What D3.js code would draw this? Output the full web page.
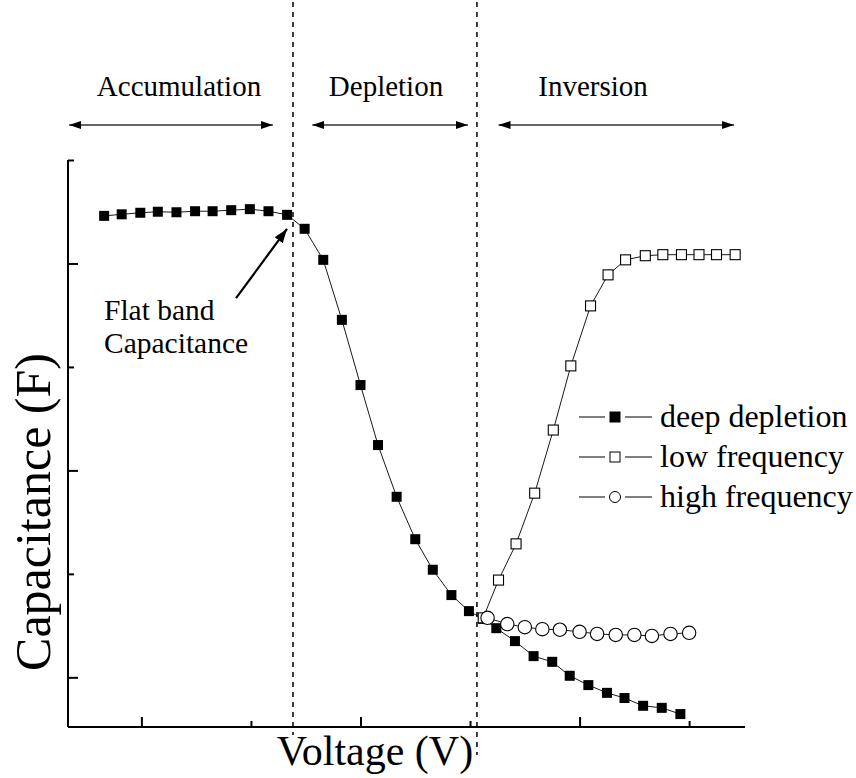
<!DOCTYPE html>
<html>
<head>
<meta charset="utf-8">
<script src="https://cdn.jsdelivr.net/npm/d3@7"></script>
<style>
  body { margin: 0; background: #fff; }
  svg text { font-family: "Liberation Serif", "DejaVu Serif", serif; fill: #000; }
</style>
</head>
<body>
<svg id="chart" width="856" height="778"></svg>
<script>
'use strict';

//data (voltage in V, capacitance in arbitrary units)
const ddV = [-3.34, -3.18, -3.01, -2.85, -2.68, -2.51, -2.35, -2.18, -2.01, -1.84, -1.67,
  -1.51, -1.34, -1.17, -1.0, -0.84, -0.67, -0.5, -0.34, -0.17, -0.01,
  0.12, 0.24, 0.41, 0.58, 0.75, 0.91, 1.08, 1.25, 1.41, 1.58, 1.75, 1.92];
const ddC = [9.92, 9.95, 9.98, 10.0, 9.99, 10.01, 10.01, 10.03, 10.05, 10.01, 9.94,
  9.67, 9.07, 7.91, 6.65, 5.49, 4.49, 3.67, 3.08, 2.59, 2.28,
  2.13, 1.95, 1.7, 1.41, 1.3, 1.03, 0.85, 0.7, 0.6, 0.45, 0.41, 0.29];
const lfV = [0.12, 0.26, 0.42, 0.59, 0.76, 0.92, 1.1, 1.26, 1.42, 1.6, 1.76, 1.93, 2.09, 2.25, 2.42];
const lfC = [2.15, 2.88, 3.58, 4.56, 5.78, 7.02, 8.18, 8.78, 9.07, 9.15, 9.17, 9.17, 9.17, 9.17, 9.17];
const hfV = [0.16, 0.34, 0.5, 0.66, 0.82, 1.0, 1.16, 1.33, 1.5, 1.66, 1.83, 2.0];
const hfC = [2.15, 2.03, 1.97, 1.93, 1.92, 1.88, 1.84, 1.82, 1.82, 1.8, 1.84, 1.86];

const xTicks = [-3, -2, -1, 0, 1, 2];
const xMajor = [-3, -1, 1];
const yTicks = [1, 3, 5, 7, 9, 11];
const yMajor = [1, 5, 9];

const regionNames = ['Accumulation', 'Depletion', 'Inversion'];
const regionFrom = [-3.66, -1.44, 0.26];
const regionTo = [-1.8, -0.02, 2.41];
const regionBoundaries = [-1.616, 0.063];
const seriesNames = ['deep depletion', 'low frequency', 'high frequency'];

(() => {
  //dimensions
  const svg = d3.select('#chart');
  const pLeft = 68, pRight = 745, pTop = 160, pBottom = 727;
  const x = d3.scaleLinear().domain([-3.67, 2.51]).range([pLeft, pRight]);
  const y = d3.scaleLinear().domain([0.04, 11]).range([pBottom, pTop]);

  //region boundaries
  svg.selectAll('.bound')
    .data(regionBoundaries)
    .join('line')
    .attr('x1', (d) => x(d))
    .attr('x2', (d) => x(d))
    .attr('y1', 2)
    .attr('y2', (d, i) => (i === 0 ? 735 : 755))
    .attr('stroke', '#000')
    .attr('stroke-width', 1.5)
    .attr('stroke-dasharray', '5,5');

  //axes
  const xAxis = d3.axisBottom(x).tickValues(xTicks).tickFormat('').tickSizeOuter(0);
  const gx = svg.append('g').attr('transform', `translate(0,${pBottom})`).call(xAxis);
  gx.selectAll('.tick line')
    .attr('y2', (d) => (xMajor.includes(d) ? -10 : -6));
  const yAxis = d3.axisLeft(y).tickValues(yTicks).tickFormat('').tickSizeOuter(0);
  const gy = svg.append('g').attr('transform', `translate(${pLeft},0)`).call(yAxis);
  gy.selectAll('.tick line')
    .attr('x2', (d) => (yMajor.includes(d) ? 10 : 6));
  svg.selectAll('.domain, .tick line').attr('stroke', '#000').attr('stroke-width', 2);
  gy.select('.domain').attr('d', `M0,${pTop}V${pBottom}`);
  gx.select('.domain').attr('d', `M${pLeft},0H${pRight}`);

  //axis titles
  svg.append('text')
    .attr('x', 375)
    .attr('y', 765)
    .attr('text-anchor', 'middle')
    .style('font-size', '42px')
    .text('Voltage (V)');
  svg.append('text')
    .attr('transform', 'translate(50,512) rotate(-90)')
    .attr('text-anchor', 'middle')
    .style('font-size', '50px')
    .text('Capacitance (F)');

  //arrowheads
  const defs = svg.append('defs');
  defs.append('marker')
    .attr('id', 'head')
    .attr('viewBox', '0 0 12 8')
    .attr('refX', 12)
    .attr('refY', 4)
    .attr('markerWidth', 12)
    .attr('markerHeight', 8)
    .attr('markerUnits', 'userSpaceOnUse')
    .attr('orient', 'auto-start-reverse')
    .append('path')
    .attr('d', 'M0,0L12,4L0,8Z')
    .attr('fill', '#000');
  defs.append('marker')
    .attr('id', 'head2')
    .attr('viewBox', '0 0 14 10')
    .attr('refX', 14)
    .attr('refY', 5)
    .attr('markerWidth', 14)
    .attr('markerHeight', 10)
    .attr('markerUnits', 'userSpaceOnUse')
    .attr('orient', 'auto')
    .append('path')
    .attr('d', 'M0,0L14,5L0,10Z')
    .attr('fill', '#000');

  //region labels and arrows
  regionNames.forEach((name, i) => {
    svg.append('text')
      .attr('x', [179, 386, 593][i])
      .attr('y', 96)
      .attr('text-anchor', 'middle')
      .style('font-size', '29px')
      .text(name);
    svg.append('line')
      .attr('x1', x(regionFrom[i]))
      .attr('x2', x(regionTo[i]))
      .attr('y1', 125)
      .attr('y2', 125)
      .attr('stroke', '#333')
      .attr('stroke-width', 1.5)
      .attr('marker-start', 'url(#head)')
      .attr('marker-end', 'url(#head)');
  });

  //series lines
  const line = d3.line().x((d) => x(d[0])).y((d) => y(d[1]));
  const dd = d3.zip(ddV, ddC);
  const lf = d3.zip(lfV, lfC);
  const hf = d3.zip(hfV, hfC);
  [dd, lf, hf].forEach((s) => {
    svg.append('path')
      .datum(s)
      .attr('d', line)
      .attr('fill', 'none')
      .attr('stroke', '#000')
      .attr('stroke-width', 0.9);
  });

  //markers
  svg.selectAll('.dd')
    .data(dd)
    .join('rect')
    .attr('x', (d) => x(d[0]) - 5)
    .attr('y', (d) => y(d[1]) - 5)
    .attr('width', 10)
    .attr('height', 10)
    .attr('fill', '#000');
  svg.selectAll('.lf')
    .data(lf)
    .join('rect')
    .attr('x', (d) => x(d[0]) - 5)
    .attr('y', (d) => y(d[1]) - 5)
    .attr('width', 10)
    .attr('height', 10)
    .attr('fill', '#fff')
    .attr('stroke', '#000')
    .attr('stroke-width', 1.1);
  svg.selectAll('.hf')
    .data(hf)
    .join('circle')
    .attr('cx', (d) => x(d[0]))
    .attr('cy', (d) => y(d[1]))
    .attr('r', 6.7)
    .attr('fill', '#fff')
    .attr('stroke', '#000')
    .attr('stroke-width', 1.1);

  //flat band annotation
  svg.append('line')
    .attr('x1', x(-2.136))
    .attr('y1', y(8.33))
    .attr('x2', x(-1.671))
    .attr('y2', y(9.667))
    .attr('stroke', '#000')
    .attr('stroke-width', 2.2)
    .attr('marker-end', 'url(#head2)');
  svg.append('text')
    .attr('x', 104)
    .attr('y', 320)
    .style('font-size', '29.5px')
    .text('Flat band');
  svg.append('text')
    .attr('x', 104)
    .attr('y', 353)
    .style('font-size', '29.5px')
    .text('Capacitance');

  //legend
  const legend = svg.append('g');
  seriesNames.forEach((name, i) => {
    const ly = 417 + i * 40;
    legend.append('line').attr('x1', 579).attr('x2', 605).attr('y1', ly).attr('y2', ly)
      .attr('stroke', '#000').attr('stroke-width', 1);
    legend.append('line').attr('x1', 625).attr('x2', 652).attr('y1', ly).attr('y2', ly)
      .attr('stroke', '#000').attr('stroke-width', 1);
    if (i === 2) {
      legend.append('circle').attr('cx', 615).attr('cy', ly).attr('r', 5.5)
        .attr('fill', '#fff').attr('stroke', '#000').attr('stroke-width', 1);
    } else {
      legend.append('rect')
        .attr('x', i === 0 ? 609.5 : 610)
        .attr('y', ly - (i === 0 ? 5.5 : 5))
        .attr('width', i === 0 ? 11 : 10)
        .attr('height', i === 0 ? 11 : 10)
        .attr('fill', i === 0 ? '#000' : '#fff')
        .attr('stroke', '#000')
        .attr('stroke-width', i === 0 ? 0 : 1);
    }
    legend.append('text')
      .attr('x', 660)
      .attr('y', ly + 10)
      .style('font-size', '32px')
      .text(name);
  });
})();
</script>
</body>
</html>
